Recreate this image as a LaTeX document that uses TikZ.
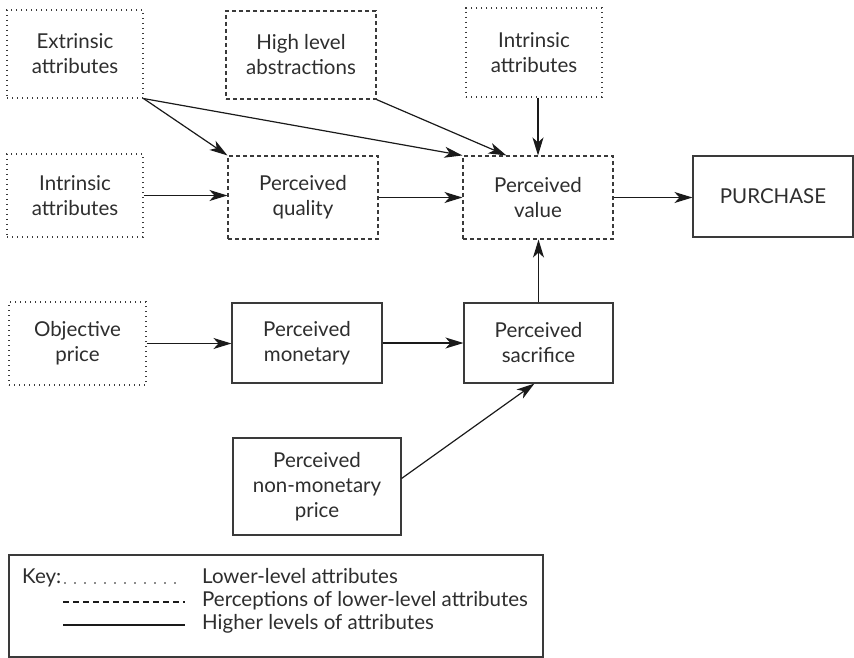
\documentclass[tikz,border=0pt]{standalone}
\usepackage{fontspec}
\setmainfont{Lato}
\usetikzlibrary{arrows.meta,calc}
\definecolor{boxc}{HTML}{3A3A3A}
\definecolor{txtc}{HTML}{2E2E2E}
\definecolor{arrc}{HTML}{1A1A1A}
\begin{document}
\begin{tikzpicture}[x=1pt,y=-1pt,
  box/.style={draw=boxc, line width=1.1pt, align=center, inner sep=0pt, text=txtc, font=\fontsize{20.5}{25}\selectfont},
  lowbox/.style={box, dash pattern=on 1.1pt off 3.9pt},
  percbox/.style={box, dash pattern=on 4pt off 3pt},
  highbox/.style={box},
  arr/.style={draw=arrc, line width=1.2pt, -{Stealth[length=18pt,width=11pt,inset=5pt]}},
  keytxt/.style={inner sep=0pt, text=txtc, font=\fontsize{20.5}{23}\selectfont},
  keydot/.style={draw=arrc, line width=1.8pt, line cap=round, dash pattern=on 0pt off 10pt},
  keydash/.style={draw=arrc, line width=2pt, dash pattern=on 6pt off 4pt},
  keysolid/.style={draw=arrc, line width=2pt}
]
\useasboundingbox (0,0) rectangle (854,658);
\fill[white] (0,0) rectangle (854,658);

% boxes
\node[lowbox, minimum width=136pt, minimum height=88pt] (ext) at (75,54) {Extrinsic\\attributes};
\node[percbox, minimum width=150pt, minimum height=88pt] (hla) at (301,55) {High level\\abstractions};
\node[lowbox, minimum width=136pt, minimum height=89pt] (intT) at (534,52.5) {Intrinsic\\attributes};
\node[lowbox, minimum width=136pt, minimum height=83pt] (intL) at (75,195.5) {Intrinsic\\attributes};
\node[percbox, minimum width=150pt, minimum height=83pt] (pq) at (303,197.5) {Perceived\\quality};
\node[percbox, minimum width=150pt, minimum height=83pt] (pv) at (538,197.5) {Perceived\\value};
\node[highbox, minimum width=160pt, minimum height=81pt] (pur) at (773,196.5) {PURCHASE};
\node[lowbox, minimum width=137pt, minimum height=83pt] (op) at (77.5,343.5) {Objective\\price};
\node[highbox, minimum width=150pt, minimum height=80pt] (pm) at (307,343) {Perceived\\monetary};
\node[highbox, minimum width=149pt, minimum height=80pt] (ps) at (538.5,343) {Perceived\\sacrifice};
\node[highbox, minimum width=168pt, minimum height=97pt] (nm) at (317,486.5) {Perceived\\non-monetary\\price};

% connectors
\draw[arr] (ext.south east) -- (pq.north west);
\draw[arr] (ext.south east) -- (pv.north west);
\draw[arr] (hla.south east) -- ([xshift=44pt]pv.north west);
\draw[arr] (pv.north |- intT.south) -- (pv.north);
\draw[arr] (intL.east) -- (intL.east -| pq.west);
\draw[arr] (pq.east) -- (pv.west);
\draw[arr] (pv.east) -- (pv.east -| pur.west);
\draw[arr] (op.east) -- (op.east -| pm.west);
\draw[arr] (pm.east) -- (pm.east -| ps.west);
\draw[arr] ([yshift=8pt]nm.east) -- ([xshift=71pt]ps.south west);
\draw[arr] (ps.north) -- (ps.north |- pv.south);

% key
\node[draw=boxc, line width=1.1pt, minimum width=534pt, minimum height=102pt, inner sep=0pt] (key) at (276,606) {};
\node[keytxt, anchor=base west] (k0) at (22,583) {Key:};
\coordinate (d0) at (65,583);
\coordinate (d1) at (185,583);
\draw[keydot] (d0) -- (d1);
\node[keytxt, anchor=base west] (k1) at (202,583) {Lower-level attributes};
\coordinate (e0) at (63,602);
\coordinate (e1) at (185,602);
\draw[keydash] (e0) -- (e1);
\node[keytxt, anchor=base west] (k2) at (202,606) {Perceptions of lower-level attributes};
\coordinate (f0) at (63,625);
\coordinate (f1) at (185,625);
\draw[keysolid] (f0) -- (f1);
\node[keytxt, anchor=base west] (k3) at (202,629) {Higher levels of attributes};
\end{tikzpicture}
\end{document}
